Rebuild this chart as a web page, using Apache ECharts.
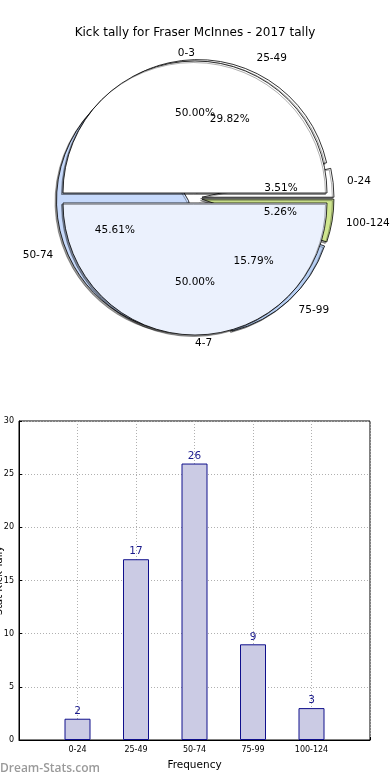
<!DOCTYPE html>
<html>
<head>
<meta charset="utf-8">
<script src="https://cdn.jsdelivr.net/npm/echarts@6/dist/echarts.min.js"></script>
<style>
html,body{margin:0;padding:0;background:#fff;}
#c{width:390px;height:780px;}
</style>
</head>
<body>
<div id="c"></div>
<script>
const chartTitle = 'Kick tally for Fraser McInnes - 2017 tally';
const innerNames = ['0-3', '4-7'];
const innerValues = [50, 50];
const innerColors = ['#ffffff', '#ebf1fd'];
const binNames = ['0-24', '25-49', '50-74', '75-99', '100-124'];
const binCounts = [2, 17, 26, 9, 3];
const binColors = ['#ffffff', '#ffffff', '#c6d9fb', '#b7cff3', '#cfe68f'];
const xAxisName = 'Frequency';
const yAxisName = 'Stat Kick Tally';
const watermark = 'Dream-Stats.com';

const FONT = 'DejaVu Sans';
const CX = 195, CY = 198, R = 132;

function pieData(names, values, colors) {
  return names.map((n, i) => ({ name: n, value: values[i], selected: true, itemStyle: { color: colors[i] } }));
}
function pctData(names, values) {
  return names.map((n, i) => ({ name: n, value: values[i], selected: true }));
}
function sum(arr) { return arr.reduce((a, b) => a + b, 0); }
const pieBase = {
  type: 'pie', center: [CX, CY], startAngle: 0, clockwise: false,
  selectedMode: 'multiple', avoidLabelOverlap: false, animation: false,
  emphasis: { disabled: true }, minShowLabelAngle: 0,
  labelLayout: { hideOverlap: false }
};
const drawStyle = {
  borderColor: '#000', borderWidth: 0.8,
  shadowColor: 'rgba(0,0,0,0.4)', shadowOffsetX: -1.5, shadowOffsetY: 1.5, shadowBlur: 0
};
const nameLabel = {
  show: true, position: 'outside', fontFamily: FONT, fontSize: 10.5, color: '#000',
  distanceToLabelLine: 0, overflow: 'none'
};
function pctLabel(values) {
  const total = sum(values);
  return {
    show: true, position: 'inside', fontFamily: FONT, fontSize: 10.5, color: '#000',
    formatter: p => (p.value / total * 100).toFixed(2) + '%'
  };
}

const chart = echarts.init(document.getElementById('c'));
chart.setOption({
  backgroundColor: '#fff',
  animation: false,
  title: {
    text: chartTitle, left: 'center', top: 22,
    textStyle: { fontFamily: FONT, fontSize: 12, fontWeight: 'normal', color: '#000' }
  },
  graphic: [{
    type: 'text', left: 0, top: 763,
    style: { text: watermark, fill: '#9a9a9a', font: '600 12px "Open Sans"' }
  }],
  grid: {
    left: 19, right: 20, top: 421, bottom: 40,
    outerBoundsMode: 'none', containLabel: false,
    show: true, borderColor: '#000', borderWidth: 1
  },
  xAxis: {
    type: 'value', min: 0, max: 6, interval: 1,
    name: xAxisName, nameLocation: 'middle', nameGap: 20,
    nameTextStyle: { fontFamily: FONT, fontSize: 10.5, color: '#000' },
    axisLine: { lineStyle: { color: '#000' } },
    axisTick: { inside: true, length: 3, lineStyle: { color: '#000' } },
    axisLabel: {
      fontFamily: FONT, fontSize: 8, color: '#000', margin: 6,
      formatter: v => binNames[v - 1] || ''
    },
    splitLine: { show: true, lineStyle: { color: '#b0b0b0', type: [1, 2] } }
  },
  yAxis: {
    type: 'value', min: 0, max: 30, interval: 5,
    name: yAxisName, nameLocation: 'middle', nameGap: 15, nameRotate: 90,
    nameMoveOverlap: false,
    nameTextStyle: { fontFamily: FONT, fontSize: 10, color: '#000' },
    axisLine: { lineStyle: { color: '#000' } },
    axisTick: { inside: true, length: 3, lineStyle: { color: '#000' } },
    axisLabel: { fontFamily: FONT, fontSize: 8, color: '#000', margin: 5 },
    splitLine: { show: true, lineStyle: { color: '#b0b0b0', type: [1, 2] } }
  },
  series: [
    Object.assign({}, pieBase, {
      name: 'bins', radius: [0, R], selectedOffset: 7, z: 1,
      data: pieData(binNames, binCounts, binColors),
      itemStyle: drawStyle,
      label: nameLabel,
      labelLine: { show: false, length: 14, length2: 0 }
    }),
    Object.assign({}, pieBase, {
      name: 'halves', radius: [0, R], selectedOffset: 5, z: 2,
      data: pieData(innerNames, innerValues, innerColors),
      itemStyle: drawStyle,
      label: nameLabel,
      labelLine: { show: false, length: 8, length2: 0 }
    }),
    Object.assign({}, pieBase, {
      name: 'binsPct', radius: [21, R], selectedOffset: 7, z: 5, silent: true,
      data: pctData(binNames, binCounts),
      itemStyle: { color: 'rgba(0,0,0,0)', borderWidth: 0 },
      label: pctLabel(binCounts), labelLine: { show: false }
    }),
    Object.assign({}, pieBase, {
      name: 'halvesPct', radius: [21, R], selectedOffset: 5, z: 5, silent: true,
      data: pctData(innerNames, innerValues),
      itemStyle: { color: 'rgba(0,0,0,0)', borderWidth: 0 },
      label: pctLabel(innerValues), labelLine: { show: false }
    }),
    {
      type: 'bar', name: 'counts', barWidth: 26, animation: false,
      data: binCounts.map((v, i) => [i + 1, v]),
      itemStyle: { color: '#cbcbe4', borderColor: '#10108c', borderWidth: 1 },
      label: { show: true, position: 'top', distance: 2, fontFamily: FONT, fontSize: 10.5, color: '#1a1a8c' },
      labelLayout: { hideOverlap: false },
      emphasis: { disabled: true }
    }
  ]
});
</script>
</body>
</html>
